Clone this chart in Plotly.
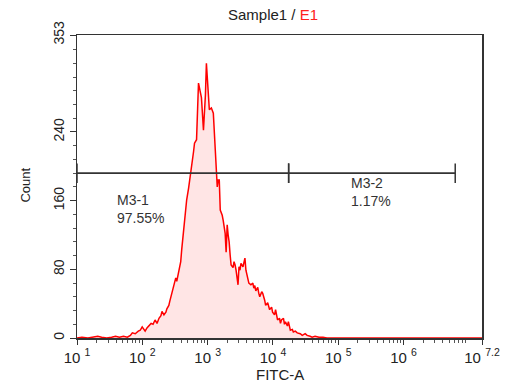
import plotly.graph_objects as go

# Histogram: FITC-A (log10 exponent) vs Count
fitc_exp = [1.000, 1.076, 1.166, 1.242, 1.318, 1.378, 1.454, 1.529, 1.590, 1.650,
            1.711, 1.771, 1.817, 1.847, 1.892, 1.938, 1.968, 1.998, 2.028, 2.043,
            2.074, 2.104, 2.134, 2.164, 2.195, 2.225, 2.255, 2.285, 2.301, 2.331,
            2.361, 2.376, 2.406, 2.421, 2.452, 2.482, 2.512, 2.527, 2.558, 2.588,
            2.603, 2.618, 2.648, 2.679, 2.709, 2.739, 2.754, 2.784, 2.799, 2.830,
            2.860, 2.890, 2.905, 2.936, 2.966, 2.981, 3.011, 3.026, 3.057, 3.087,
            3.117, 3.132, 3.147, 3.162, 3.178, 3.193, 3.223, 3.238, 3.253, 3.268,
            3.283, 3.299, 3.314, 3.329, 3.344, 3.359, 3.389, 3.404, 3.420, 3.435,
            3.465, 3.480, 3.495, 3.510, 3.541, 3.571, 3.586, 3.616, 3.631, 3.662,
            3.692, 3.707, 3.722, 3.737, 3.767, 3.783, 3.798, 3.828, 3.843, 3.873,
            3.888, 3.919, 3.934, 3.949, 3.979, 3.994, 4.024, 4.040, 4.070, 4.100,
            4.115, 4.130, 4.161, 4.176, 4.191, 4.221, 4.236, 4.266, 4.297, 4.312,
            4.342, 4.372, 4.418, 4.448, 4.493, 4.523, 4.569, 4.599, 4.644, 4.705,
            4.765, 4.826, 4.977, 5.280, 6.187, 7.200]
counts = [0, 1, 0, 1, 2, 1, 0, 1, 2, 1,
          2, 1, 3, 6, 5, 8, 9, 13, 10, 8,
          12, 15, 17, 16, 21, 17, 23, 26, 31, 27,
          30, 34, 38, 43, 52, 61, 70, 66, 79, 89,
          103, 114, 143, 161, 175, 190, 202, 217, 227, 231,
          297, 287, 280, 242, 283, 320, 289, 266, 268, 262,
          219, 193, 176, 184, 184, 149, 143, 137, 130, 122,
          100, 132, 120, 112, 97, 85, 82, 89, 85, 79,
          62, 83, 79, 87, 83, 93, 79, 68, 64, 62,
          64, 58, 61, 55, 59, 52, 48, 54, 52, 44,
          38, 41, 35, 33, 36, 30, 27, 33, 21, 23,
          17, 21, 23, 16, 19, 14, 19, 9, 10, 7,
          8, 6, 5, 3, 5, 3, 2, 1, 2, 1,
          1, 0, 0, 0, 0, 0]

# Gates (markers)
gate_names = ["M3-1", "M3-2"]
gate_lo_exp = [1.0, 4.24]
gate_hi_exp = [4.24, 6.79]
gate_count = 192
gate_pct = ["97.55%", "1.17%"]
gate_label_exp = [1.575, 5.17]
gate_label_count = [173, 192]

# Axis ticks
x_tick_exp = [1, 2, 3, 4, 5, 6, 7.2]
x_tick_text = ["10 <sup>1</sup>", "10 <sup>2</sup>", "10 <sup>3</sup>", "10 <sup>4</sup>",
               "10 <sup>5</sup>", "10 <sup>6</sup>", "10 <sup>7.2</sup>"]
y_ticks = [0, 80, 160, 240, 353]

FONT = "Liberation Sans, Arial, sans-serif"

fig = go.Figure()
fig.add_trace(go.Scatter(
    x=[10 ** e for e in fitc_exp], y=counts, mode="lines",
    line=dict(color="#ff0000", width=1.5, shape="linear"),
    fill="tozeroy", fillcolor="rgba(255,0,0,0.1)", hoverinfo="skip", showlegend=False))

for i, name in enumerate(gate_names):
    xs = [10 ** gate_lo_exp[i], 10 ** gate_hi_exp[i]]
    fig.add_trace(go.Scatter(
        x=xs, y=[gate_count, gate_count], mode="lines+markers",
        line=dict(color="#333333", width=1.8),
        marker=dict(symbol="line-ns", size=14, line=dict(color="#333333", width=1.5)),
        hoverinfo="skip", showlegend=False))
    fig.add_annotation(x=gate_label_exp[i], y=gate_label_count[i], xref="x", yref="y",
                       text=f"{name}<br>{gate_pct[i]}", showarrow=False,
                       xanchor="left", yanchor="top", align="left",
                       font=dict(family=FONT, size=14, color="#333333"))

minor_vals = [k * 10 ** n for n in range(1, 8) for k in range(2, 10) if k * 10 ** n < 10 ** 7.2]

fig.update_xaxes(type="log", range=[1, 7.2],
                 tickmode="array", tickvals=[10 ** e for e in x_tick_exp], ticktext=x_tick_text,
                 showline=True, linecolor="#333333", linewidth=1.5, mirror=True,
                 ticks="outside", ticklen=5, tickcolor="#333333", tickwidth=1,
                 minor=dict(tickmode="array", tickvals=minor_vals, ticks="outside",
                            ticklen=3, tickcolor="#555555"),
                 showgrid=False, zeroline=False,
                 tickfont=dict(family=FONT, size=15, color="#222222"))
fig.update_yaxes(range=[0, 353], tickmode="array", tickvals=y_ticks,
                 tickangle=-90,
                 showline=True, linecolor="#333333", linewidth=1.5, mirror=True,
                 ticks="outside", ticklen=6, tickcolor="#333333", tickwidth=1,
                 minor=dict(tickmode="linear", tick0=0, dtick=16, ticks="outside",
                            ticklen=3, tickcolor="#555555"),
                 showgrid=False, zeroline=False,
                 tickfont=dict(family=FONT, size=14, color="#222222"))

fig.add_annotation(x=0.485, y=1.0, xref="paper", yref="paper", yshift=21,
                   text="Sample1 / <span style='color:#ff2020'>E1</span>",
                   showarrow=False, xanchor="center", yanchor="middle",
                   font=dict(family=FONT, size=15, color="#222222"))
fig.add_annotation(x=0.5, y=-0.122, xref="paper", yref="paper",
                   text="FITC-A", showarrow=False, xanchor="center", yanchor="middle",
                   font=dict(family=FONT, size=15, color="#222222"))
fig.add_annotation(x=-0.127, y=0.505, xref="paper", yref="paper",
                   text="Count", textangle=-90, showarrow=False,
                   xanchor="center", yanchor="middle",
                   font=dict(family=FONT, size=13, color="#222222"))

fig.update_layout(width=512, height=385, margin=dict(l=77, r=25, t=35, b=47),
                  plot_bgcolor="white", paper_bgcolor="white", showlegend=False)

fig.write_html("out.html", config={"displayModeBar": False, "staticPlot": True},
               post_script="document.body.style.margin='0px';document.body.style.overflow='hidden';")
